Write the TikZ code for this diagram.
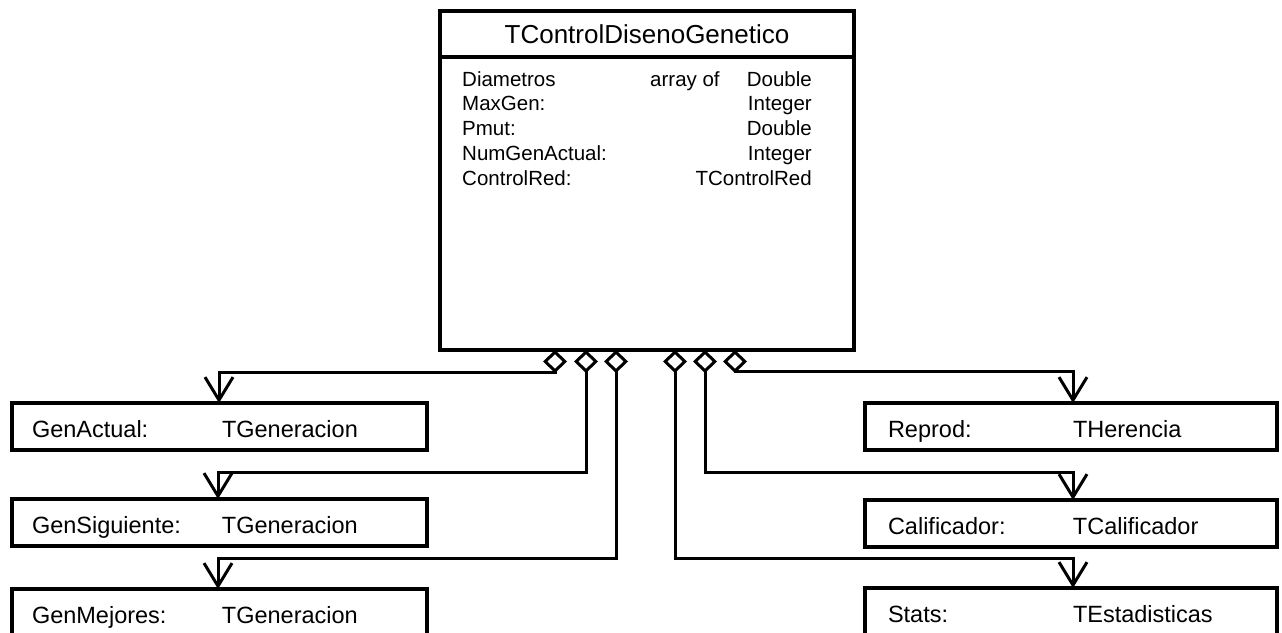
\documentclass[tikz,border=0pt]{standalone}
\usepackage{fontspec}
\setmainfont{Liberation Sans}
\usetikzlibrary{arrows.meta,calc}
\newcommand\titlefnt{\fontsize{26}{30}\selectfont}
\newcommand\attrfnt{\fontsize{20.5}{24}\selectfont}
\newcommand\partfnt{\fontsize{23.5}{28}\selectfont}
\begin{document}
\begin{tikzpicture}[x=1pt,y=1pt,
  classbox/.style={draw, line width=3.5pt, rectangle, inner sep=0pt, outer sep=0pt},
  attr/.style={inner sep=0pt, font=\attrfnt},
  partbox/.style={draw, line width=3.5pt, rectangle, anchor=north west, outer sep=0pt,
    inner ysep=8pt, text height=26pt, text depth=5pt, align=left, font=\partfnt},
  leftpart/.style={partbox, inner xsep=20pt, text width=375pt},
  rightpart/.style={partbox, inner xsep=23pt, text width=366pt},
  agg/.style={line width=3pt, line join=miter,
    {Diamond[open,length=23pt,width=24pt]}-{Straight Barb[length=23pt,width=28pt]}}]
\useasboundingbox (0,0) rectangle (1282,-632);

% aggregating class
\node[classbox, anchor=north west, minimum width=414pt, minimum height=339pt] (main) at (440,-11) {};
\draw[line width=3.5pt] ($(main.north west)+(0,-46)$) coordinate (hdl) -- ($(main.north east)+(0,-46)$) coordinate (hdr);
\node[inner sep=0pt, font=\titlefnt] (title) at ($(main.north)+(0,-23)$) {TControlDisenoGenetico};

% attributes
\node[attr, anchor=base west] (n1) at ($(main.north west)+(22,-75)$) {Diametros};
\node[attr, anchor=base west] (n2) at ($(main.north west)+(22,-99.75)$) {MaxGen:};
\node[attr, anchor=base west] (n3) at ($(main.north west)+(22,-124.5)$) {Pmut:};
\node[attr, anchor=base west] (n4) at ($(main.north west)+(22,-149.25)$) {NumGenActual:};
\node[attr, anchor=base west] (n5) at ($(main.north west)+(22,-174)$) {ControlRed:};
\node[attr, anchor=base west] (arr) at ($(main.north west)+(210,-75)$) {array of};
\node[attr, anchor=base east] (t1) at ($(main.north west)+(372,-75)$) {Double};
\node[attr, anchor=base east] (t2) at ($(main.north west)+(372,-99.75)$) {Integer};
\node[attr, anchor=base east] (t3) at ($(main.north west)+(372,-124.5)$) {Double};
\node[attr, anchor=base east] (t4) at ($(main.north west)+(372,-149.25)$) {Integer};
\node[attr, anchor=base east] (t5) at ($(main.north west)+(372,-174)$) {TControlRed};

% part classes
\node[leftpart] (genact) at (12,-403) {\makebox[190pt][l]{GenActual:}TGeneracion};
\node[leftpart] (gensig) at (12,-499) {\makebox[190pt][l]{GenSiguiente:}TGeneracion};
\node[leftpart] (genmej) at (12,-589) {\makebox[190pt][l]{GenMejores:}TGeneracion};
\node[rightpart] (reprod) at (865,-403) {\makebox[185pt][l]{Reprod:}THerencia};
\node[rightpart] (calif) at (865,-500) {\makebox[185pt][l]{Calificador:}TCalificador};
\node[rightpart] (stats) at (865,-588) {\makebox[185pt][l]{Stats:}TEstadisticas};

% aggregation ends on the class
\coordinate (d1) at ($(main.south west)+(115,0)$);
\coordinate (d2) at ($(main.south west)+(146,0)$);
\coordinate (d3) at ($(main.south west)+(176,0)$);
\coordinate (d4) at ($(main.south west)+(235,0)$);
\coordinate (d5) at ($(main.south west)+(265,0)$);
\coordinate (d6) at ($(main.south west)+(295,0)$);

% arrow ends on the parts
\coordinate (p1) at ($(genact.north west)+(207,0)$);
\coordinate (p2) at ($(gensig.north west)+(206,0)$);
\coordinate (p3) at ($(genmej.north west)+(206,0)$);
\coordinate (p4) at ($(reprod.north west)+(208,0)$);
\coordinate (p5) at ($(calif.north west)+(208,0)$);
\coordinate (p6) at ($(stats.north west)+(208,0)$);

% aggregation connectors
\draw[agg] (d1) -- ++(0,-22) -| (p1);
\draw[agg] (d2) -- ++(0,-122) -| (p2);
\draw[agg] (d3) -- ++(0,-208) -| (p3);
\draw[agg] (d6) -- ++(0,-21) -| (p4);
\draw[agg] (d5) -- ++(0,-122) -| (p5);
\draw[agg] (d4) -- ++(0,-208) -| (p6);
\end{tikzpicture}
\end{document}
